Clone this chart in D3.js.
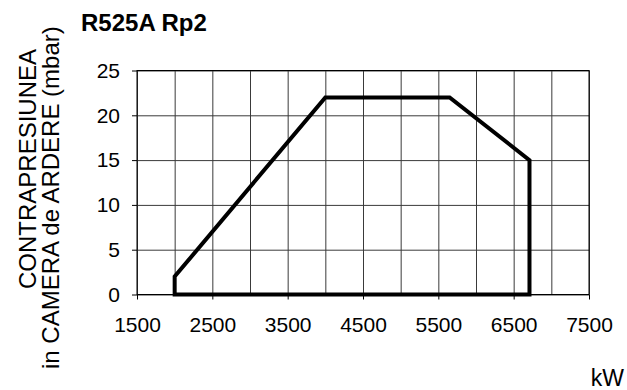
<!DOCTYPE html>
<html>
<head>
<meta charset="utf-8">
<script src="https://cdn.jsdelivr.net/npm/d3@7"></script>
<style>
  html, body { margin: 0; padding: 0; background: #fff; }
  svg { display: block; font-family: "Liberation Sans", Arial, Helvetica, sans-serif; }
</style>
</head>
<body>
<svg id="chart" width="627" height="390"></svg>
<script>
// Operating envelope: output (kW) vs. combustion chamber back-pressure (mbar)
const title = "R525A Rp2";
const yLabelLines = ["CONTRAPRESIUNEA", "in CAMERA de ARDERE (mbar)"];
const xUnit = "kW";

const powerKW = [2000, 2000, 4000, 5650, 6710, 6710, 2000];
const pressureMbar = [0, 2, 22, 22, 15, 0, 0];

const xTickLabels = [1500, 2500, 3500, 4500, 5500, 6500, 7500];
const xGridValues = [1500, 2000, 2500, 3000, 3500, 4000, 4500, 5000, 5500, 6000, 6500, 7000, 7500];
const yTickLabels = [0, 5, 10, 15, 20, 25];

const svg = d3.select("#chart");
const plotLeft = 137, plotRight = 589, plotTop = 70.5, plotBottom = 294.5;

const x = d3.scaleLinear().domain([1500, 7500]).range([plotLeft, plotRight]);
const y = d3.scaleLinear().domain([0, 25]).range([plotBottom, plotTop]);

// grid
svg.append("g")
  .attr("transform", `translate(0,${plotBottom})`)
  .call(d3.axisBottom(x).tickValues(xGridValues).tickSize(-(plotBottom - plotTop)).tickFormat(""))
  .call(g => g.select(".domain").remove())
  .call(g => g.selectAll("line").attr("stroke", "#3a3a3a").attr("stroke-width", 1));

svg.append("g")
  .attr("transform", `translate(${plotLeft},0)`)
  .call(d3.axisLeft(y).tickValues(yTickLabels).tickSize(-(plotRight - plotLeft)).tickFormat(""))
  .call(g => g.select(".domain").remove())
  .call(g => g.selectAll("line").attr("stroke", "#3a3a3a").attr("stroke-width", 1));

// frame
svg.append("rect")
  .attr("x", plotLeft).attr("y", plotTop)
  .attr("width", plotRight - plotLeft).attr("height", plotBottom - plotTop)
  .attr("fill", "none").attr("stroke", "#000").attr("stroke-width", 1);

// x axis ticks + labels
svg.append("g")
  .attr("transform", `translate(0,${plotBottom})`)
  .call(d3.axisBottom(x).tickValues(xTickLabels).tickSize(5).tickPadding(18).tickFormat(d3.format("d")))
  .call(g => g.select(".domain").remove())
  .call(g => g.selectAll("line").attr("stroke", "#000"))
  .call(g => g.selectAll("text").attr("font-size", 21).attr("fill", "#000")
    .attr("font-family", "'Liberation Sans', Arial, sans-serif"));

// y axis ticks + labels
svg.append("g")
  .attr("transform", `translate(${plotLeft},0)`)
  .call(d3.axisLeft(y).tickValues(yTickLabels).tickSize(5).tickPadding(12))
  .call(g => g.select(".domain").remove())
  .call(g => g.selectAll("line").attr("stroke", "#000"))
  .call(g => g.selectAll("text").attr("font-size", 21).attr("fill", "#000")
    .attr("font-family", "'Liberation Sans', Arial, sans-serif"));

// envelope
const pts = powerKW.map((p, i) => [p, pressureMbar[i]]);
const line = d3.line().x(d => x(d[0])).y(d => y(d[1]));
svg.append("path")
  .attr("d", line(pts) + "Z")
  .attr("fill", "none")
  .attr("stroke", "#000")
  .attr("stroke-width", 4)
  .attr("stroke-linejoin", "miter");

// title
svg.append("text")
  .attr("x", 81).attr("y", 30.5)
  .attr("font-size", 24).attr("font-weight", "bold")
  .text(title);

// y label (two rotated lines)
const yl = [[35.5, 289], [59, 369]];
yLabelLines.forEach((t, i) => {
  svg.append("text")
    .attr("transform", `translate(${yl[i][0]},${yl[i][1]}) rotate(-90)`)
    .attr("font-size", 24)
    .attr("text-anchor", "start")
    .text(t);
});

// x unit
svg.append("text")
  .attr("x", 624).attr("y", 386)
  .attr("font-size", 23)
  .attr("text-anchor", "end")
  .text(xUnit);
</script>
</body>
</html>
